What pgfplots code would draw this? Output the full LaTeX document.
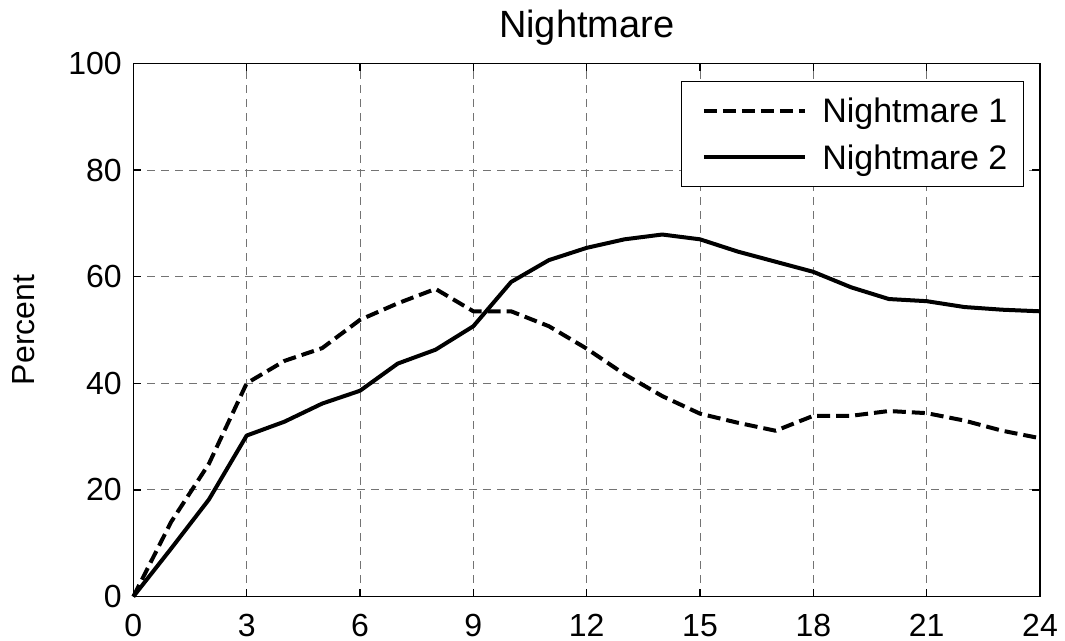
\documentclass[border=0pt]{standalone}
\usepackage{fontspec}
\setmainfont{Liberation Sans}
\usepackage{pgfplots}
\pgfplotsset{compat=1.18}

\begin{document}
\begin{tikzpicture}
\begin{axis}[
    scale only axis,
    width=453.5pt, height=266.7pt,
    xmin=0, xmax=24, ymin=0, ymax=100,
    xtick={0,3,...,24}, ytick={0,20,...,100},
    tick align=inside, major tick length=4pt,
    grid=major,
    major grid style={black!55, line width=0.5pt, dash pattern=on 4pt off 3pt},
    axis line style={line width=0.6pt},
    every tick/.style={black, line width=0.6pt},
    /pgf/number format/assume math mode=true,
    tick label style={font=\fontsize{16}{19}\selectfont, inner sep=0pt},
    xticklabel style={yshift=-8.8pt},
    yticklabel style={xshift=-5.6pt},
    title={Nightmare},
    title style={font=\fontsize{19}{23}\selectfont, at={(axis description cs:0.5,1.0267)}, anchor=base, inner sep=0pt},
    ylabel={Percent},
    ylabel style={font=\fontsize{16}{19}\selectfont, at={(axis description cs:-0.108,0.5)}, anchor=south, inner sep=0pt},
    legend cell align=left,
    legend image code/.code={\path (0pt,0pt); \draw[#1] (2.3pt,0pt) -- (53pt,0pt);},
    legend style={at={(axis description cs:0.98236,0.96738)}, anchor=north east,
        font=\fontsize{17}{20}\selectfont, line width=0.6pt,
        inner xsep=8pt, inner ysep=3pt, column sep=7.5pt,
        nodes={inner sep=0pt, text height=17.75pt, text depth=5.55pt}},
    clip=false,
]
\addplot[black, line width=2pt, line join=round, dash pattern=on 6.5pt off 3pt]
    coordinates {
(0,0) (1,14.0) (2,24.9) (3,40.0) (4,44.2) (5,46.6) (6,51.9) (7,55.0) (8,57.7)
(9,53.5) (10,53.5) (11,50.7) (12,46.5) (13,41.7) (14,37.6) (15,34.3) (16,32.6)
(17,31.1) (18,33.9) (19,33.9) (20,34.8) (21,34.4) (22,33.0) (23,31.1) (24,29.7)
    };
\addplot[black, line width=2pt, line join=round]
    coordinates {
(0,0) (1,9.0) (2,18.2) (3,30.2) (4,32.8) (5,36.2) (6,38.6) (7,43.7) (8,46.3)
(9,50.7) (10,59.0) (11,63.1) (12,65.4) (13,67.0) (14,67.9) (15,67.0) (16,64.7)
(17,62.8) (18,60.9) (19,58.0) (20,55.8) (21,55.4) (22,54.3) (23,53.8) (24,53.5)
    };
\legend{Nightmare 1,Nightmare 2}
\coordinate (bl) at (rel axis cs:0,0);
\coordinate (tr) at (rel axis cs:1,1);
\end{axis}
% keep the reference's margins round the axis
\path ([shift={(-66.7pt,-22.2pt)}]bl) rectangle ([shift={(12.5pt,31.7pt)}]tr);
\end{tikzpicture}
\end{document}
